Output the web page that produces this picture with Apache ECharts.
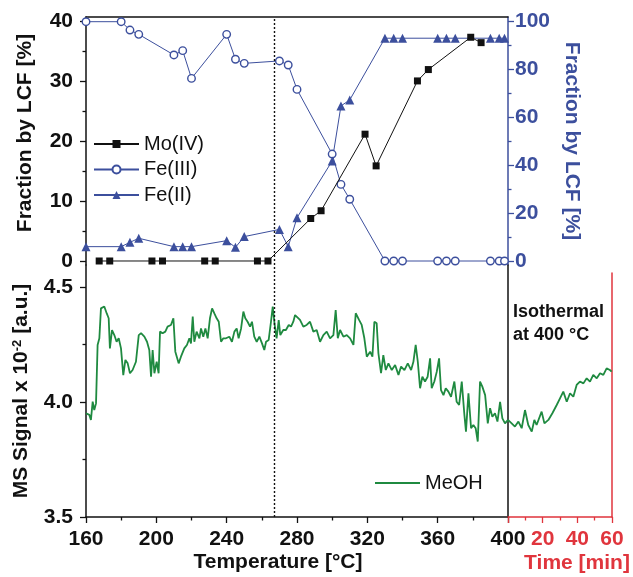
<!DOCTYPE html>
<html>
<head>
<meta charset="utf-8">
<script src="https://cdn.jsdelivr.net/npm/echarts@6/dist/echarts.min.js"></script>
<style>html,body{margin:0;padding:0;background:#fff;}#c{width:633px;height:577px;}</style>
</head>
<body>
<div id="c"></div>
<script>
// ---- data ----
const moTemp  = [167.5,173.5,197.5,203.5,227.5,233.5,257.5,263.5,287.8,293.7,318.7,325.0,348.5,354.7,378.8,384.7];
const moValue = [0,0,0,0,0,0,0,0,7.1,8.4,21.2,15.9,30.1,32.0,37.4,36.5];

const feTemp   = [160,180,185,190,210,215,220,240,245,250,270,275,280,300,305,310,330,335,340,360,365,370,390,395,398];
const fe3Value = [100,100,96.5,94.7,86.1,87.9,76.3,94.7,84.3,82.6,83.6,81.9,71.7,44.7,32.0,25.8,0,0,0,0,0,0,0,0,0];
const fe2Value = [6,6,7.8,9.5,6,6,6,8.5,5.7,10.2,13.2,6,18.1,41.8,64.8,67.3,93.1,93.1,93.1,93.1,93.1,93.1,93.1,93.1,93.1];

const msTemp = [
160.0,161.9,162.8,163.8,164.7,165.7,166.6,167.6,168.5,170.4,
171.8,172.9,173.6,174.8,176.1,177.4,178.6,179.9,181.2,182.4,
183.7,185.0,186.5,188.4,190.0,191.3,193.2,194.7,196.0,197.0,
197.9,198.9,200.2,201.3,202.1,203.6,205.1,206.4,208.3,209.7,
210.8,212.7,214.0,215.9,217.4,218.8,219.7,220.7,221.6,222.9,
224.5,225.4,226.7,227.9,229.2,230.5,231.7,233.0,234.3,235.5,
236.8,238.1,239.6,241.5,243.0,244.4,245.7,246.8,248.2,249.5,
250.6,251.9,253.3,254.4,255.7,257.1,258.6,260.1,261.4,262.4,
263.9,265.2,266.2,267.3,268.4,269.6,270.5,272.2,273.7,275.3,
276.6,277.9,278.9,281.7,283.6,285.5,287.4,289.3,291.2,293.1,
295.0,296.9,298.8,300.7,302.0,303.2,304.5,306.4,308.3,310.2,
312.1,313.4,315.3,316.8,318.3,319.7,321.6,322.9,324.0,325.3,
326.3,327.8,329.1,330.5,332.0,333.9,335.8,337.7,339.2,341.1,
343.0,344.9,346.2,347.5,348.7,350.0,351.3,352.8,354.3,355.7,
356.6,358.1,359.5,360.8,361.9,363.3,364.6,366.1,367.6,369.5,
370.8,372.2,373.7,375.2,376.1,377.5,379.0,380.3,381.6,382.8,
384.1,385.4,387.0,388.5,389.8,391.1,392.6,394.0,395.5,396.8,
398.3,400.0];
const msValue = [
3.951,3.944,3.922,4.002,3.965,3.994,4.248,4.277,4.407,4.415,
4.385,4.364,4.233,4.313,4.291,4.262,4.277,4.233,4.117,4.183,
4.168,4.125,4.139,4.175,4.291,4.299,4.284,4.262,4.226,4.110,
4.226,4.125,4.175,4.125,4.306,4.299,4.306,4.328,4.335,4.364,
4.219,4.168,4.197,4.233,4.248,4.277,4.255,4.371,4.262,4.306,
4.277,4.320,4.284,4.320,4.277,4.364,4.407,4.385,4.364,4.349,
4.262,4.277,4.277,4.284,4.262,4.306,4.320,4.277,4.320,4.393,
4.364,4.349,4.328,4.349,4.284,4.262,4.284,4.255,4.226,4.262,
4.270,4.349,4.415,4.335,4.277,4.356,4.291,4.313,4.313,4.335,
4.328,4.349,4.378,4.357,4.328,4.335,4.349,4.306,4.313,4.262,
4.291,4.306,4.277,4.291,4.400,4.277,4.313,4.284,4.291,4.277,
4.248,4.386,4.357,4.335,4.277,4.197,4.219,4.197,4.349,4.342,
4.212,4.125,4.204,4.139,4.168,4.139,4.161,4.118,4.154,4.139,
4.168,4.139,4.175,4.248,4.175,4.060,4.110,4.089,4.110,4.190,
4.060,4.089,4.132,4.190,4.052,4.030,4.060,4.045,4.023,4.089,
4.001,3.987,4.089,3.944,3.871,4.038,3.886,3.900,3.886,3.828,
4.089,4.067,4.030,3.907,3.973,3.936,3.951,3.915,4.001,3.929,
3.907,3.922];

const isoTime  = [0,2.1,4.0,6.0,7.9,9.8,11.7,13.7,15.2,16.5,19.4,21.0,23.3,25.6,28.1,30.0,31.9,33.9,35.8,37.7,39.6,41.5,43.5,45.4,47.3,49.2,51.2,53.1,55.0,56.9,58.8,59.8];
const isoValue = [3.922,3.907,3.893,3.915,3.886,3.965,3.900,3.871,3.922,3.900,3.958,3.907,3.922,3.951,3.987,4.016,4.045,4.001,4.038,4.023,4.074,4.089,4.081,4.103,4.089,4.118,4.103,4.125,4.118,4.146,4.139,4.132];

const leftTicks  = [0,10,20,30,40];
const leftMinor  = [5,15,25,35];
const rightTicks = [0,20,40,60,80,100];
const rightMinor = [10,30,50,70,90];
const msTicks    = [3.5,4.0,4.5];
const msMinor    = [3.75,4.25];
const switchTemp = 267;   // dotted vertical marker
const isoText = 'Isothermal\nat 400 °C';

// ---- style ----
const FONT = 'Liberation Sans, Arial, Helvetica, sans-serif';
const BLACK = '#111111';
const BLUE = '#3c4f9d';
const GREEN = '#1f8a40';
const RED = '#e0353d';

function pairs(a, b) { return a.map((x, i) => [x, b[i]]); }

const chart = echarts.init(document.getElementById('c'), null, {renderer: 'canvas'});

const lblBold = (c) => ({fontFamily: FONT, fontSize: 21, fontWeight: 'bold', color: c});
const noAxisParts = {axisTick: {show: false}, axisLabel: {show: false}, splitLine: {show: false}};

function minorAxis(gridIndex, pos, min, max, vals, color) {
  return {
    type: 'value', gridIndex: gridIndex, position: pos, min: min, max: max,
    axisLine: {show: false},
    axisTick: {show: true, length: 3.5, customValues: vals, lineStyle: {color: color, width: 1.3}},
    axisLabel: {show: false}, splitLine: {show: false}
  };
}

const option = {
  animation: false,
  backgroundColor: '#ffffff',
  grid: [
    {left: 86, right: 125, top: 17, height: 248},   // top panel (17 -> 265)
    {left: 86, right: 125, top: 265, bottom: 60},   // MS vs temperature (265 -> 517)
    {left: 508, right: 21, top: 273, bottom: 60}    // MS vs time
  ],
  legend: [
    {
      data: ['Mo(IV)', 'Fe(III)', 'Fe(II)'],
      orient: 'vertical', left: 93, top: 134, padding: 0,
      itemWidth: 45, itemHeight: 10, itemGap: 5.5,
      textStyle: {fontFamily: FONT, fontSize: 20, color: BLACK, lineHeight: 20},
      selectedMode: false
    },
    {
      data: [{name: 'MeOH', icon: 'rect'}],
      left: 375, top: 473, padding: 0,
      itemWidth: 45, itemHeight: 2,
      itemStyle: {color: GREEN},
      textStyle: {fontFamily: FONT, fontSize: 20, color: BLACK, lineHeight: 20},
      selectedMode: false
    }
  ],
  xAxis: [
    {
      type: 'value', gridIndex: 0, position: 'top', min: 160, max: 400,
      axisLine: {show: true, onZero: false, lineStyle: {color: BLACK, width: 1.5}},
      ...noAxisParts
    },
    {
      type: 'value', gridIndex: 1, position: 'bottom', min: 160, max: 400, interval: 40,
      axisLine: {show: true, onZero: false, lineStyle: {color: BLACK, width: 1.5}},
      axisTick: {show: true, length: 6, lineStyle: {color: BLACK, width: 1.3}},
      minorTick: {show: true, splitNumber: 2, length: 3.5, lineStyle: {color: BLACK, width: 1.3}},
      axisLabel: Object.assign({margin: 12}, lblBold(BLACK)),
      splitLine: {show: false},
      name: 'Temperature [°C]', nameLocation: 'middle', nameGap: 35,
      nameTextStyle: Object.assign({padding: [0, 38, 0, 0]}, lblBold(BLACK))
    },
    {
      type: 'value', gridIndex: 2, position: 'bottom', min: 0, max: 60, interval: 20,
      axisLine: {show: true, onZero: false, lineStyle: {color: RED, width: 1.5}},
      axisTick: {show: true, length: 6, lineStyle: {color: RED, width: 1.3}},
      minorTick: {show: true, splitNumber: 2, length: 3.5, lineStyle: {color: RED, width: 1.3}},
      axisLabel: Object.assign({margin: 12, formatter: v => (v === 0 ? '' : String(v))}, lblBold(RED)),
      splitLine: {show: false},
      name: 'Time [min]', nameLocation: 'middle', nameGap: 36,
      nameTextStyle: Object.assign({padding: [0, 0, 0, 34]}, lblBold(RED))
    }
  ],
  yAxis: [
    { // 0 top left
      type: 'value', gridIndex: 0, position: 'left', min: -0.669, max: 40.786,
      axisLine: {show: true, onZero: false, lineStyle: {color: BLACK, width: 1.5}},
      axisTick: {show: true, length: 6, customValues: leftTicks, lineStyle: {color: BLACK, width: 1.3}},
      axisLabel: Object.assign({margin: 13, customValues: leftTicks}, lblBold(BLACK)),
      splitLine: {show: false},
      name: 'Fraction by LCF [%]', nameLocation: 'middle', nameRotate: 90, nameGap: 50,
      nameTextStyle: Object.assign({padding: [0, 0, 0, 16]}, lblBold(BLACK))
    },
    minorAxis(0, 'left', -0.669, 40.786, leftMinor, BLACK), // 1
    { // 2 top right
      type: 'value', gridIndex: 0, position: 'right', min: -1.67, max: 101.96,
      axisLine: {show: true, onZero: false, lineStyle: {color: BLUE, width: 1.5}},
      axisTick: {show: true, length: 6, customValues: rightTicks, lineStyle: {color: BLUE, width: 1.3}},
      axisLabel: Object.assign({margin: 7, customValues: rightTicks}, lblBold(BLUE)),
      splitLine: {show: false},
      name: 'Fraction by LCF [%]', nameLocation: 'middle', nameRotate: -90, nameGap: 53,
      nameTextStyle: lblBold(BLUE)
    },
    minorAxis(0, 'right', -1.67, 101.96, rightMinor, BLUE), // 3
    { // 4 bottom left
      type: 'value', gridIndex: 1, position: 'left', min: 3.5, max: 4.5957,
      axisLine: {show: true, onZero: false, lineStyle: {color: BLACK, width: 1.5}},
      axisTick: {show: true, length: 6, customValues: msTicks, lineStyle: {color: BLACK, width: 1.3}},
      axisLabel: Object.assign({margin: 13, customValues: msTicks, formatter: v => v.toFixed(1)}, lblBold(BLACK)),
      splitLine: {show: false},
      name: 'MS Signal x 10{sup|-2} [a.u.]', nameLocation: 'middle', nameRotate: 90, nameGap: 52,
      nameTextStyle: Object.assign({rich: {sup: {fontFamily: FONT, fontSize: 13, fontWeight: 'bold', color: BLACK, verticalAlign: 'top', lineHeight: 13, padding: [0, 0, 9, 0]}}}, lblBold(BLACK))
    },
    minorAxis(1, 'left', 3.5, 4.5957, msMinor, BLACK), // 5
    { // 6 bottom right black divider
      type: 'value', gridIndex: 1, position: 'right', min: 3.5, max: 4.5957,
      axisLine: {show: true, onZero: false, lineStyle: {color: BLACK, width: 1.5}},
      ...noAxisParts
    },
    { // 7 time panel right red line
      type: 'value', gridIndex: 2, position: 'right', min: 3.5, max: 4.5609,
      axisLine: {show: true, onZero: false, lineStyle: {color: RED, width: 1.5}},
      ...noAxisParts
    }
  ],
  graphic: [
    {
      type: 'text', left: 513, top: 301, silent: true,
      style: {text: isoText, font: 'bold 18px ' + FONT, fill: BLACK, lineHeight: 23}
    }
  ],
  series: [
    {
      name: 'Mo(IV)', type: 'line', xAxisIndex: 0, yAxisIndex: 0,
      data: pairs(moTemp, moValue), clip: false,
      symbol: 'rect', symbolSize: 7,
      itemStyle: {color: BLACK}, lineStyle: {color: BLACK, width: 1},
      markLine: {
        silent: true, symbol: 'none', label: {show: false},
        lineStyle: {color: BLACK, width: 1.4, type: [2, 2]},
        data: [{xAxis: switchTemp}]
      },
      z: 4
    },
    {
      name: 'Fe(III)', type: 'line', xAxisIndex: 0, yAxisIndex: 2,
      data: pairs(feTemp, fe3Value), clip: false,
      symbol: 'circle', symbolSize: 7.5,
      itemStyle: {color: '#ffffff', borderColor: BLUE, borderWidth: 1.4},
      lineStyle: {color: BLUE, width: 1},
      z: 3
    },
    {
      name: 'Fe(II)', type: 'line', xAxisIndex: 0, yAxisIndex: 2,
      data: pairs(feTemp, fe2Value), clip: false,
      symbol: 'triangle', symbolSize: 9,
      itemStyle: {color: BLUE}, lineStyle: {color: BLUE, width: 1},
      z: 3
    },
    {
      name: 'MeOH', type: 'line', xAxisIndex: 1, yAxisIndex: 4,
      data: pairs(msTemp, msValue), showSymbol: false, symbol: 'none',
      lineStyle: {color: GREEN, width: 1.8}, itemStyle: {color: GREEN},
      markLine: {
        silent: true, symbol: 'none', label: {show: false},
        lineStyle: {color: BLACK, width: 1.4, type: [2, 2]},
        data: [{xAxis: switchTemp}]
      }
    },
    {
      name: 'MeOH', type: 'line', xAxisIndex: 2, yAxisIndex: 7,
      data: pairs(isoTime, isoValue), showSymbol: false, symbol: 'none',
      lineStyle: {color: GREEN, width: 1.8}, itemStyle: {color: GREEN}
    }
  ]
};
chart.setOption(option);
</script>
</body>
</html>
